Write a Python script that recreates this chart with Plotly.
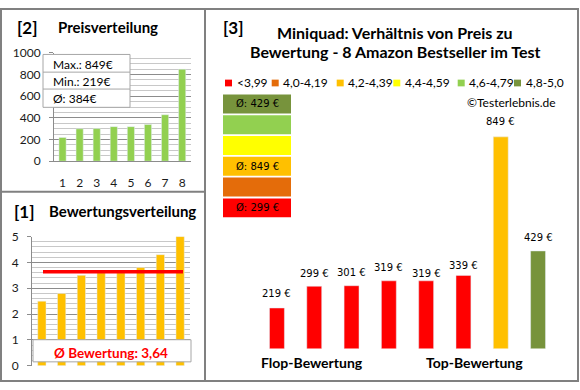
import plotly.graph_objects as go

# ---------------- data ----------------
# products in order of their rating (flop -> top)
products = [1, 2, 3, 4, 5, 6, 7, 8]
ratings = [2.5, 2.8, 3.5, 3.6, 3.6, 3.8, 4.3, 5.0]
prices = [219, 299, 301, 319, 319, 339, 849, 429]
price_ticks = [0, 200, 400, 600, 800, 1000]
rating_ticks = [0, 1, 2, 3, 4, 5]
bin_labels = ["<3,99", "4,0-4,19", "4,2-4,39", "4,4-4,59", "4,6-4,79", "4,8-5,0"]
bin_lower = [0.0, 4.0, 4.2, 4.4, 4.6, 4.8]
bin_colors = ["#FF0000", "#E46C0A", "#FFC000", "#FFFF00", "#92D050", "#77933C"]

W, H = 580, 390
def px(x):
    return x / W
def py(y):
    return 1 - y / H

FONT = "Lato"
GRID = "#8c8c8c"
MINOR = "#c8c8c8"

def bin_of(r):
    k = 0
    for i, lo in enumerate(bin_lower):
        if r >= lo:
            k = i
    return k

bins = [bin_of(r) for r in ratings]
bar_colors = [bin_colors[b] for b in bins]
prices_sorted = sorted(prices)

fig = go.Figure()

# panel [2] price distribution (ascending)
fig.add_trace(go.Bar(x=products, y=prices_sorted, marker_color="#92D050", width=0.42,
                     xaxis="x", yaxis="y", showlegend=False, hoverinfo="skip"))
# panel [1] rating distribution
fig.add_trace(go.Bar(x=products, y=ratings, marker_color="#FFC000", width=0.42,
                     xaxis="x2", yaxis="y2", showlegend=False, hoverinfo="skip"))
# panel [3] price vs rating
fig.add_trace(go.Bar(x=products, y=prices, marker_color=bar_colors, width=0.40,
                     xaxis="x3", yaxis="y3", showlegend=False, hoverinfo="skip"))

axis_common = dict(showline=True, linecolor=GRID, linewidth=1, ticks="outside",
                   ticklen=4, tickcolor=GRID, showgrid=True, gridcolor=GRID,
                   gridwidth=1, zeroline=False,
                   tickfont=dict(family=FONT, size=12, color="#1a1a1a"))

fig.update_layout(
    width=W, height=H, margin=dict(l=0, r=0, t=0, b=0),
    paper_bgcolor="white", plot_bgcolor="rgba(0,0,0,0)",
    xaxis=dict(domain=[px(54), px(190.7)], range=[0.5, 8.5], tickvals=products,
               showline=True, linecolor=GRID, ticks="", showgrid=False, zeroline=False,
               ticklabelstandoff=10, anchor="y",
               tickfont=dict(family=FONT, size=12, color="#1a1a1a")),
    yaxis=dict(domain=[py(159.3), py(46.7)], range=[0, 1000], tickvals=price_ticks,
               anchor="x", ticklabelstandoff=6,
               minor=dict(dtick=50, showgrid=True, gridcolor=MINOR, ticks=""),
               **axis_common),
    xaxis2=dict(domain=[px(32), px(190)], range=[0.5, 8.5], showticklabels=False,
                showline=False, ticks="", showgrid=False, zeroline=False, anchor="y2"),
    yaxis2=dict(domain=[py(372), py(237.7)], range=[0, 5], tickvals=rating_ticks,
                anchor="x2", ticklabelstandoff=6,
                minor=dict(dtick=0.2, showgrid=True, gridcolor=MINOR, ticks=""),
                **axis_common),
    xaxis3=dict(domain=[px(258.3), px(556.7)], range=[0.5, 8.5], visible=False, anchor="y3"),
    yaxis3=dict(domain=[py(354), py(100)], range=[70.3, 969.4], visible=False, anchor="x3"),
)

shapes = []
ann = []

# frame
shapes.append(dict(type="rect", xref="paper", yref="paper", x0=px(1), x1=px(578),
                   y0=py(388), y1=py(1), line=dict(color="#808080", width=2)))
shapes.append(dict(type="line", xref="paper", yref="paper", x0=px(205), x1=px(205),
                   y0=py(388), y1=py(1), line=dict(color="#808080", width=2)))
shapes.append(dict(type="line", xref="paper", yref="paper", x0=px(1), x1=px(205),
                   y0=py(191), y1=py(191), line=dict(color="#808080", width=2)))

# panel titles
def title(text, x, y, size, anchor="left"):
    ann.append(dict(text=text, x=px(x), y=py(y), xref="paper", yref="paper",
                    xanchor=anchor, yanchor="middle", showarrow=False,
                    font=dict(family=FONT, size=size, color="black")))

title("<b>[2]</b>", 15, 20, 17)
title("<b>Preisverteilung</b>", 56, 20, 15)
title("<b>[1]</b>", 12, 211.5, 17)
title("<b>Bewertungsverteilung</b>", 47, 211.5, 15)
title("<b>[3]</b>", 221, 20.5, 17)
title("<b>Miniquad: Verhältnis von Preis zu</b>", 395, 26, 16, "center")
title("<b>Bewertung - 8 Amazon Bestseller im Test</b>", 395, 45, 16, "center")
title("<b>Flop-Bewertung</b>", 312, 369, 14, "center")
title("<b>Top-Bewertung</b>", 474, 369, 14, "center")
title("©Testerlebnis.de", 511.5, 98.3, 12, "center")

# panel [2] stats box
pmax, pmin = max(prices), min(prices)
pmean = sum(prices) / len(prices)
shapes.append(dict(type="rect", xref="paper", yref="paper", x0=px(43), x1=px(130),
                   y0=py(103.3), y1=py(48.3), fillcolor="white",
                   line=dict(color="#a6a6a6", width=1), layer="above"))
for yy in (66.7, 84.3):
    shapes.append(dict(type="line", xref="paper", yref="paper", x0=px(43), x1=px(130),
                       y0=py(yy), y1=py(yy), line=dict(color="#a6a6a6", width=1),
                       layer="above"))
for txt, yy in ((f"Max.: {pmax}€", 58.5), (f"Min.: {pmin}€", 76.5), (f"Ø: {pmean:.0f}€", 94.5)):
    ann.append(dict(text=txt, x=px(51), y=py(yy), xref="paper", yref="paper",
                    xanchor="left", yanchor="middle", showarrow=False,
                    font=dict(family=FONT, size=12, color="black")))

# panel [1] mean line and box
rmean = sum(ratings) / len(ratings)
shapes.append(dict(type="line", xref="paper", yref="y2", x0=px(43), x1=px(183),
                   y0=rmean, y1=rmean, line=dict(color="#FF0000", width=3.5), layer="above"))
shapes.append(dict(type="rect", xref="paper", yref="paper", x0=px(33), x1=px(191),
                   y0=py(368), y1=py(345), fillcolor="white",
                   line=dict(color="#a6a6a6", width=1), layer="above"))
ann.append(dict(text=f"<b>Ø Bewertung: {rmean:.2f}</b>".replace(".", ","),
                x=px(111), y=py(358.5), xref="paper", yref="paper",
                xanchor="center", yanchor="middle", showarrow=False,
                font=dict(family=FONT, size=13.5, color="#FF0000")))

# panel [3] legend
leg_x = [225, 271.7, 336.7, 393.3, 457.7, 514]
for lx, lab, col in zip(leg_x, bin_labels, bin_colors):
    shapes.append(dict(type="rect", xref="paper", yref="paper", x0=px(lx), x1=px(lx + 7),
                       y0=py(81.5), y1=py(74.5), fillcolor=col, line=dict(width=0)))
    ann.append(dict(text=lab, x=px(lx + 9.5), y=py(78), xref="paper", yref="paper",
                    xanchor="left", yanchor="middle", showarrow=False,
                    font=dict(family=FONT, size=12, color="black")))

# panel [3] stacked group boxes with group mean price
for k, col in enumerate(bin_colors):
    top = 90 + (5 - k) * 21.6
    shapes.append(dict(type="rect", xref="paper", yref="paper", x0=px(223), x1=px(291),
                       y0=py(top + 19.6), y1=py(top), fillcolor=col, line=dict(width=0)))
    grp = [p for p, b in zip(prices, bins) if b == k]
    if grp:
        ann.append(dict(text=f"Ø: {sum(grp) / len(grp):.0f} €", x=px(257),
                        y=py(top + 9.8), xref="paper", yref="paper",
                        xanchor="center", yanchor="middle", showarrow=False,
                        font=dict(family="DejaVu Sans", size=10, color="black")))

# panel [3] price labels
label_dy = [1, 0, 0, 0, -6, -3, 2, 0]
for x, p, dy in zip(products, prices, label_dy):
    ann.append(dict(text=f"{p} €", x=x, y=p, xref="x3", yref="y3",
                    xanchor="center", yanchor="middle", yshift=13 + dy, showarrow=False,
                    font=dict(family="DejaVu Sans", size=10, color="black")))

fig.update_layout(shapes=shapes, annotations=ann)
fig.write_html("out.html", config={"displayModeBar": False},
               post_script="document.body.style.margin='0';document.body.style.padding='0';")
